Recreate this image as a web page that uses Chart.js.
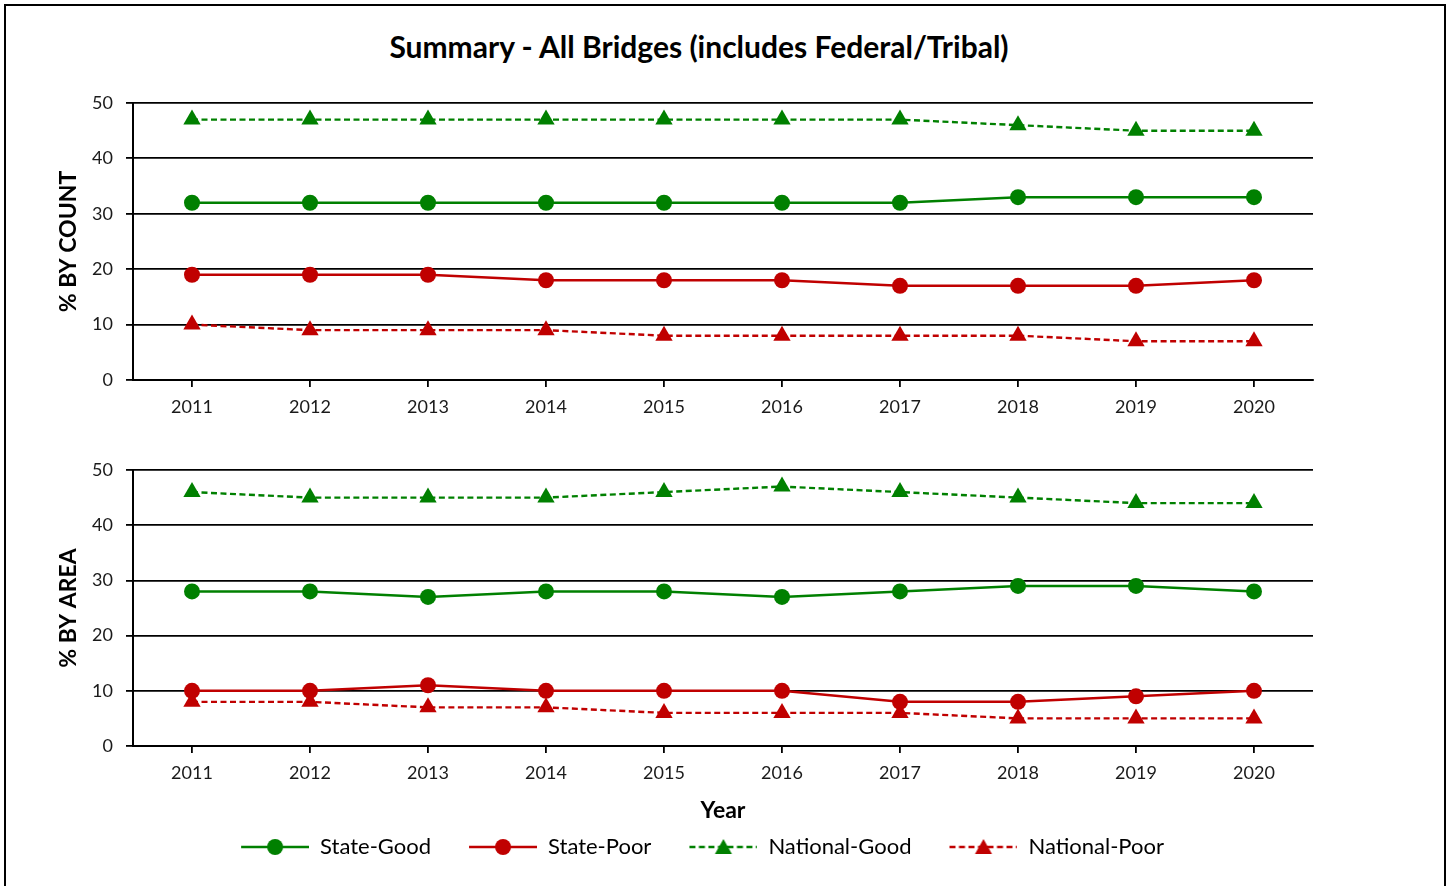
<!DOCTYPE html>
<html>
<head>
    <title>Summary - All Bridges</title>
    <script src="https://cdn.jsdelivr.net/npm/chart.js@4.4.1/dist/chart.umd.min.js"></script>
</head>

<style>
    body {
        margin: 0;
        background: #fff;
        font-family: 'Lato', sans-serif;
        width: 1449px;
        height: 886px;
        overflow: hidden;
        position: relative;
    }

    #frame {
        position: absolute;
        left: 4px;
        top: 4px;
        width: 1438px;
        height: 900px;
        border: 2px solid #000;
    }

    h1 {
        position: absolute;
        left: 0;
        top: 29px;
        width: 1398px;
        margin: 0;
        text-align: center;
        font-size: 30px;
        line-height: 34px;
        font-weight: bold;
        color: #000;
    }

    canvas {
        position: absolute;
        left: 0;
    }
    #countChart { top: 0; }
    #areaChart { top: 430px; }
</style>

<body>
    <div id="frame"></div>
    <h1>Summary - All Bridges (includes Federal/Tribal)</h1>
    <canvas id="countChart" width="1449" height="430"></canvas>
    <canvas id="areaChart" width="1449" height="456"></canvas>

    <script>

    // données
    const years = ['2011', '2012', '2013', '2014', '2015', '2016', '2017', '2018', '2019', '2020'];

    const countStateGood    = [32, 32, 32, 32, 32, 32, 32, 33, 33, 33];
    const countStatePoor    = [19, 19, 19, 18, 18, 18, 17, 17, 17, 18];
    const countNationalGood = [47, 47, 47, 47, 47, 47, 47, 46, 45, 45];
    const countNationalPoor = [10, 9, 9, 9, 8, 8, 8, 8, 7, 7];

    const areaStateGood    = [28, 28, 27, 28, 28, 27, 28, 29, 29, 28];
    const areaStatePoor    = [10, 10, 11, 10, 10, 10, 8, 8, 9, 10];
    const areaNationalGood = [46, 45, 45, 45, 46, 47, 46, 45, 44, 44];
    const areaNationalPoor = [8, 8, 7, 7, 6, 6, 6, 5, 5, 5];

    const seriesNames = ['State-Good', 'State-Poor', 'National-Good', 'National-Poor'];

    const GREEN = '#008000';
    const RED = '#c00000';
    const TEXT = '#1a1a1a';
    const FONT = 'Lato';

    Chart.defaults.font.family = FONT;
    Chart.defaults.color = TEXT;

    function makeDatasets(good, poor, natGood, natPoor) {
        const solid = (label, data, color) => ({
            label: label,
            data: data,
            borderColor: color,
            backgroundColor: color,
            borderWidth: 2.5,
            pointStyle: 'circle',
            pointRadius: 8,
            pointBorderWidth: 0,
            pointHoverRadius: 8
        });
        const dashed = (label, data, color) => ({
            label: label,
            data: data,
            borderColor: color,
            backgroundColor: color,
            borderWidth: 2.4,
            borderDash: [6, 3.5],
            pointStyle: 'triangle',
            pointRadius: 10,
            pointBorderWidth: 0,
            pointHoverRadius: 10
        });
        return [
            dashed(seriesNames[3], natPoor, RED),
            dashed(seriesNames[2], natGood, GREEN),
            solid(seriesNames[1], poor, RED),
            solid(seriesNames[0], good, GREEN)
        ];
    }

    // petit symbole de légende : trait + marqueur
    function legendIcon(color, dashed, shape) {
        const lead = 28;
        const c = document.createElement('canvas');
        c.width = lead + 68;
        c.height = 22;
        const g = c.getContext('2d');
        g.strokeStyle = color;
        g.fillStyle = color;
        g.lineWidth = dashed ? 2.4 : 2.5;
        if (dashed) g.setLineDash([6, 3.5]);
        g.beginPath();
        g.moveTo(lead, 11);
        g.lineTo(lead + 68, 11);
        g.stroke();
        g.setLineDash([]);
        const cx = lead + 34;
        g.beginPath();
        if (shape === 'circle') {
            g.arc(cx, 11, 8, 0, Math.PI * 2);
        } else {
            g.moveTo(cx, 3);
            g.lineTo(cx + 8.5, 18);
            g.lineTo(cx - 8.5, 18);
            g.closePath();
        }
        g.fill();
        return c;
    }

    function buildOptions(opts) {
        return {
            responsive: false,
            animation: false,
            layout: {
                padding: { left: 64, right: 1449 - 1313, top: opts.padTop, bottom: opts.padBottom }
            },
            plugins: {
                tooltip: { enabled: false },
                legend: opts.legend
            },
            scales: {
                x: {
                    type: 'category',
                    offset: true,
                    grid: {
                        offset: false,
                        drawOnChartArea: false,
                        drawTicks: true,
                        tickLength: 7,
                        color: '#000',
                        lineWidth: 1.8
                    },
                    border: { display: true, color: '#000', width: 2 },
                    ticks: {
                        padding: 9,
                        maxRotation: 0,
                        autoSkip: false,
                        font: { size: 18 },
                        color: TEXT
                    },
                    title: opts.xTitle,
                    afterFit: s => { s.height = opts.xHeight; }
                },
                y: {
                    min: 0,
                    max: 50,
                    ticks: {
                        stepSize: 10,
                        padding: 13,
                        font: { size: 18 },
                        color: TEXT
                    },
                    grid: {
                        color: '#000',
                        lineWidth: 1.8,
                        drawTicks: true,
                        tickLength: 7
                    },
                    border: { display: true, color: '#000', width: 2 },
                    title: {
                        display: true,
                        text: opts.yTitle,
                        font: { size: 23, weight: 'bold' },
                        color: '#000',
                        padding: { top: -9, bottom: 0 }
                    },
                    afterFit: s => { s.width = 69; }
                }
            }
        };
    }

    // graphe du haut : % par nombre
    new Chart(document.getElementById('countChart').getContext('2d'), {
        type: 'line',
        data: {
            labels: years,
            datasets: makeDatasets(countStateGood, countStatePoor, countNationalGood, countNationalPoor)
        },
        options: buildOptions({
            padTop: 103,
            padBottom: 0,
            xHeight: 50,
            yTitle: '% BY COUNT',
            xTitle: { display: false },
            legend: { display: false }
        })
    });

    // graphe du bas : % par surface, avec la légende
    const icons = [
        legendIcon(GREEN, false, 'circle'),
        legendIcon(RED, false, 'circle'),
        legendIcon(GREEN, true, 'triangle'),
        legendIcon(RED, true, 'triangle')
    ];

    new Chart(document.getElementById('areaChart').getContext('2d'), {
        type: 'line',
        data: {
            labels: years,
            datasets: makeDatasets(areaStateGood, areaStatePoor, areaNationalGood, areaNationalPoor)
        },
        options: buildOptions({
            padTop: 40,
            padBottom: 18,
            xHeight: 80,
            yTitle: '% BY AREA',
            xTitle: {
                display: true,
                text: 'Year',
                font: { size: 23, weight: 'bold' },
                color: '#000',
                padding: { top: 0, bottom: 2 }
            },
            legend: {
                display: true,
                position: 'bottom',
                labels: {
                    usePointStyle: true,
                    pointStyleWidth: 96,
                    padding: 10,
                    font: { size: 22 },
                    color: TEXT,
                    generateLabels: () => seriesNames.map((name, i) => ({
                        text: name,
                        pointStyle: icons[i],
                        fillStyle: 'transparent',
                        strokeStyle: 'transparent',
                        lineWidth: 0,
                        hidden: false,
                        datasetIndex: 3 - i
                    }))
                }
            }
        })
    });

    </script>
</body>
</html>
